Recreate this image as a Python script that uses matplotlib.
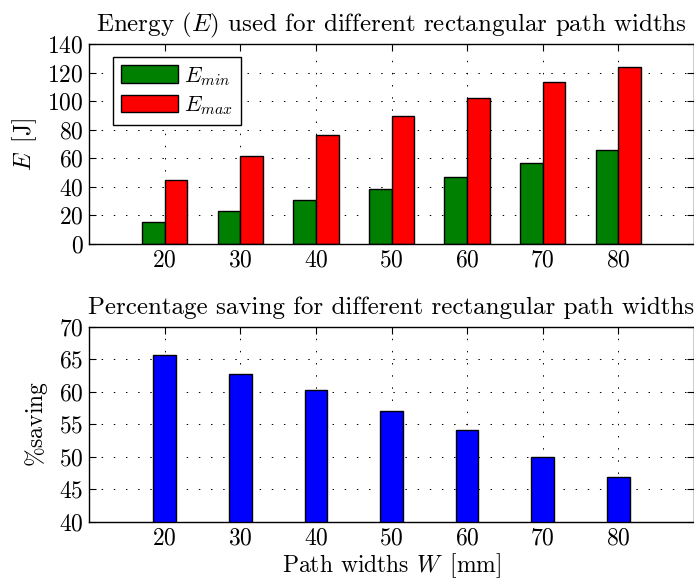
import numpy as np
import matplotlib
matplotlib.use('Agg')
import matplotlib.pyplot as plt

# LaTeX-like look
plt.rcParams['font.family'] = 'cmr10'
plt.rcParams['mathtext.fontset'] = 'cm'
plt.rcParams['axes.formatter.use_mathtext'] = True
plt.rcParams['font.size'] = 17

# Data
widths = [20, 30, 40, 50, 60, 70, 80]
e_min = [15.4, 22.9, 30.6, 38.6, 47.2, 56.8, 65.9]
e_max = [44.6, 61.4, 76.4, 89.8, 102.1, 113.6, 124.1]
saving = [65.7, 62.8, 60.2, 57.1, 54.15, 49.95, 46.9]

x = np.array(widths)
bw = 3

fig = plt.figure(figsize=(6.94, 5.86), dpi=100)
ax1 = fig.add_axes([89/694, (586-244)/586, 605/694, 200/586])
ax2 = fig.add_axes([89/694, (586-521.7)/586, 605/694, 195/586])

def style(ax):
    ax.grid(True, linestyle=(0, (1.5, 11)), color='black', linewidth=0.7)
    ax.set_axisbelow(True)
    ax.tick_params(direction='in', top=True, right=True, length=5, width=0.8, pad=4)
    for s in ax.spines.values():
        s.set_linewidth(1.0)
    ax.set_xlim(10, 90)
    ax.set_xticks(widths)

# Energy bars
ax1.bar(x - bw/2, e_min, width=bw, color='#008000', edgecolor='black', linewidth=1, label='$E_{min}$')
ax1.bar(x + bw/2, e_max, width=bw, color='#ff0000', edgecolor='black', linewidth=1, label='$E_{max}$')
style(ax1)
ax1.set_ylim(0, 140)
ax1.set_yticks(np.arange(0, 141, 20))
ax1.set_ylabel(r'$E$ $\,$[J]', labelpad=6)
ax1.set_title('Energy ($E$) used for different rectangular path widths', fontsize=18, pad=9)
leg = ax1.legend(loc='upper left', bbox_to_anchor=(0.04, 0.935), fancybox=False, edgecolor='black',
                 handlelength=2.55, handleheight=0.85, borderpad=0.35, labelspacing=0.3,
                 handletextpad=0.3, borderaxespad=0, fontsize=16, framealpha=1)
leg.get_frame().set_linewidth(1.0)

# Saving bars
ax2.bar(x, saving, width=bw, color='#0000ff', edgecolor='black', linewidth=1)
style(ax2)
ax2.set_ylim(40, 70)
ax2.set_yticks(np.arange(40, 71, 5))
ax2.set_ylabel(r'$\%$saving', labelpad=6)
ax2.set_xlabel(r'Path widths $W$ $\,$[mm]', labelpad=1)
ax2.set_title('Percentage saving for different rectangular path widths', fontsize=18, pad=9)

fig.savefig('out.png', dpi=100)
